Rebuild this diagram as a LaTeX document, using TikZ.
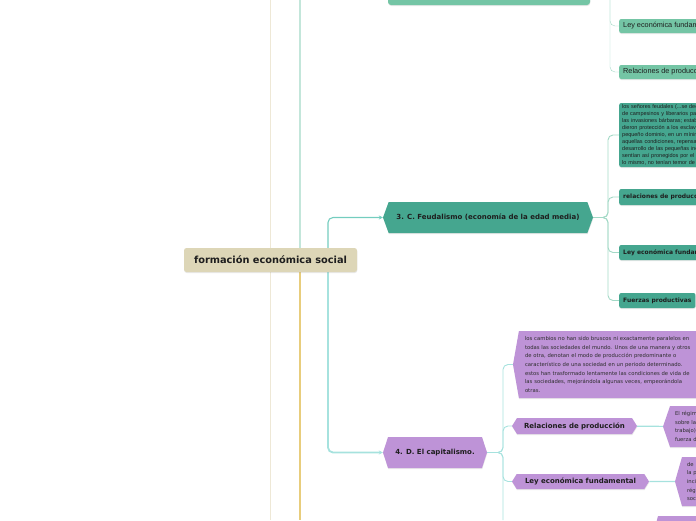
\documentclass[tikz,border=0pt]{standalone}
\usepackage{fontspec}
\setmainfont{DejaVu Sans}
\newfontfamily\narrowfont{Liberation Sans}
\usepackage{xcolor}
\usepackage{tikz}
\usetikzlibrary{shapes.symbols, positioning, arrows.meta, calc, shadows}
\pgfdeclarelayer{background}
\pgfsetlayers{background,main}

\definecolor{rootbeige}{HTML}{DDD6B7}
\definecolor{leafgreen}{HTML}{74C5A5}
\definecolor{feudteal}{HTML}{45A68F}
\definecolor{capurple}{HTML}{BE93D7}
\definecolor{linebeige}{HTML}{EEE8D6}
\definecolor{linegreen}{HTML}{A3D9C6}
\definecolor{lineyellow}{HTML}{E8CD7C}
\definecolor{lineteal}{HTML}{74CDBF}
\definecolor{linecyan}{HTML}{A6E2DE}
\definecolor{inkdark}{HTML}{1E1E1E}
\definecolor{inkgray}{HTML}{2E2E2E}

\begin{document}
\begin{tikzpicture}[
        x=1pt, y=-1pt,
        >={Stealth[length=4pt, width=4pt]}, % Arrowhead style
        shade/.style={drop shadow={shadow xshift=0.3pt, shadow yshift=-1pt, opacity=0.18}},
        rootbox/.style={rounded corners=2.5pt, fill=rootbeige, shade, text=inkdark,
            minimum width=173pt, minimum height=24pt, inner sep=0pt,
            font=\bfseries\fontsize{9.8}{11}\selectfont},
        topic/.style={signal, signal to=west and east, inner sep=0pt, shade, text=inkdark,
            font=\bfseries\fontsize{7}{8}\selectfont},
        leaf/.style={rounded corners=2pt, anchor=west, inner xsep=4pt, inner ysep=0pt,
            shade, text=inkdark, font=\bfseries\fontsize{6}{7}\selectfont},
        note/.style={align=left, text=inkgray, font=\fontsize{5.3}{8.6}\selectfont},
        link/.style={rounded corners=5pt}
    ]
    \useasboundingbox (0,0) rectangle (696,520);
    \clip (0,0) rectangle (696,520);

    % ==========================================
    % Nodes Placement
    % ==========================================
    \node[rootbox] (root) at (270.5,260) {formación económica social};

    % green branch (cut by the top edge)
    \node[rounded corners=3pt, fill=leafgreen, shade, minimum width=202pt, minimum height=30pt] (n2) at (489,-10) {};
    \node[leaf, fill=leafgreen, minimum height=14pt,
        font=\narrowfont\fontsize{7.3}{8}\selectfont] (g1) at (619,26) {Ley económica fundamental};
    \node[leaf, fill=leafgreen, minimum height=14pt,
        font=\narrowfont\fontsize{7.3}{8}\selectfont] (g2) at (619,72) {Relaciones de producción};

    % feudalism
    \node[topic, fill=feudteal, signal pointer angle=140, minimum width=210pt, minimum height=31pt] (n3) at (488,217.5)
        {3. C. Feudalismo (economía de la edad media)};
    \node[leaf, fill=feudteal, minimum height=64pt, inner xsep=3pt, text width=120pt,
        align=left, font=\narrowfont\fontsize{5.5}{7}\selectfont] (f1) at (619,135)
        {los señores feudales (...se dec\\
         de campesinos y liberarios pa\\
         las invasiones bárbaras; estab\\
         dieron protección a los esclav\\
         pequeño dominio, en un mínim\\
         aquellas condiciones, repensa\\
         desarrollo de las pequeñas ine\\
         sentían así pronegidos por el s\\
         lo mismo, no tenían temor de a};
    \node[leaf, fill=feudteal, minimum height=16pt] (f2) at (619,197) {relaciones de producción};
    \node[leaf, fill=feudteal, minimum height=15pt] (f3) at (619,252.5) {Ley económica fundamental};
    \node[leaf, fill=feudteal, minimum height=15pt] (f4) at (619,300.5) {Fuerzas productivas};

    % capitalism
    \node[topic, fill=capurple, signal pointer angle=144, minimum width=104pt, minimum height=31pt] (n4) at (435,452.5)
        {4. D. El capitalismo.};
    \node[topic, note, fill=capurple, signal pointer angle=160, minimum width=230pt, minimum height=67pt,
        text width=206pt] (p1) at (628,364.5)
        {los cambios no han sido bruscos ni exactamente paralelos en\\
         todas las sociedades del mundo. Unos de una manera y otros\\
         de otra, denotan el modo de producción predominante o\\
         característico de una sociedad en un periodo determinado.\\
         estos han trasformado lentamente las condiciones de vida de\\
         las sociedades, mejorándola algunas veces, empeorándola\\
         otras.};
    \node[topic, fill=capurple, signal pointer angle=116, minimum width=125pt, minimum height=16pt] (p2) at (574.5,426)
        {Relaciones de producción};
    \node[topic, note, fill=capurple, signal pointer angle=142, minimum width=70pt, minimum height=41pt,
        text width=46pt] (p2a) at (698,426.5)
        {El régim\\ sobre la\\ trabajo)\\ fuerza d};
    \node[topic, fill=capurple, signal pointer angle=116, minimum width=137pt, minimum height=15pt] (p3) at (580.5,481.5)
        {Ley económica fundamental};
    \node[topic, note, fill=capurple, signal pointer angle=148, minimum width=70pt, minimum height=49pt,
        text width=46pt] (p3a) at (710,481.5)
        {de\\ la p\\ inci\\ régi\\ soc};
    \node[topic, fill=capurple, signal pointer angle=150, minimum width=80pt, minimum height=30pt] (p5) at (694,531) {};

    % ==========================================
    % Free ends (branches leaving the picture)
    % ==========================================
    \coordinate (beigeTop) at (270.5,0);
    \coordinate (beigeBot) at (270.5,520);
    \coordinate (gx) at (300,0);
    \coordinate (yellowBot) at (300,520);
    \coordinate (tx) at (328,0);
    \coordinate (gcx) at (610,0);
    \coordinate (fx) at (608,0);
    \coordinate (cx) at (503,0);
    \coordinate (capBot) at (503,520);

    % ==========================================
    % Edges
    % ==========================================
    \begin{pgfonlayer}{background}
    % Connections from the root
    \draw[linebeige, line width=1.5pt] (root) -- (beigeTop);
    \draw[linebeige, line width=1.5pt] (root) -- (beigeBot);
    \draw[linegreen, line width=1.2pt, link, ->] (root.north -| gx) |- (n2.west);
    \draw[lineyellow, line width=1.2pt] (root.south -| gx) -- (yellowBot);
    \draw[lineteal, line width=1.1pt, link, ->] (root.north -| tx) |- (n3.west);
    \draw[linecyan, line width=1.8pt, link, ->] (root.south -| tx) |- (n4.west);

    % Connections from the green branch
    \foreach \c in {g1,g2}
        \draw[linegreen, link] (n2.east) -| (gcx |- \c.west) -- (\c.west);

    % Connections from feudalism
    \foreach \c in {f1,f2,f3,f4}
        \draw[linegreen, line width=0.9pt, link] (n3.east) -| (fx |- \c.west) -- (\c.west);

    % Connections from capitalism
    \foreach \c in {p1,p2,p3}
        \draw[linecyan, line width=0.9pt, link] (n4.east) -| (cx |- \c.west) -- (\c.west);
    \draw[linecyan, line width=0.9pt, link] (n4.east) -| (capBot);
    \draw[linecyan, line width=1.2pt] (p2) -- (p2a);
    \draw[linecyan, line width=1.2pt] (p3) -- (p3a);
    \end{pgfonlayer}

\end{tikzpicture}
\end{document}
